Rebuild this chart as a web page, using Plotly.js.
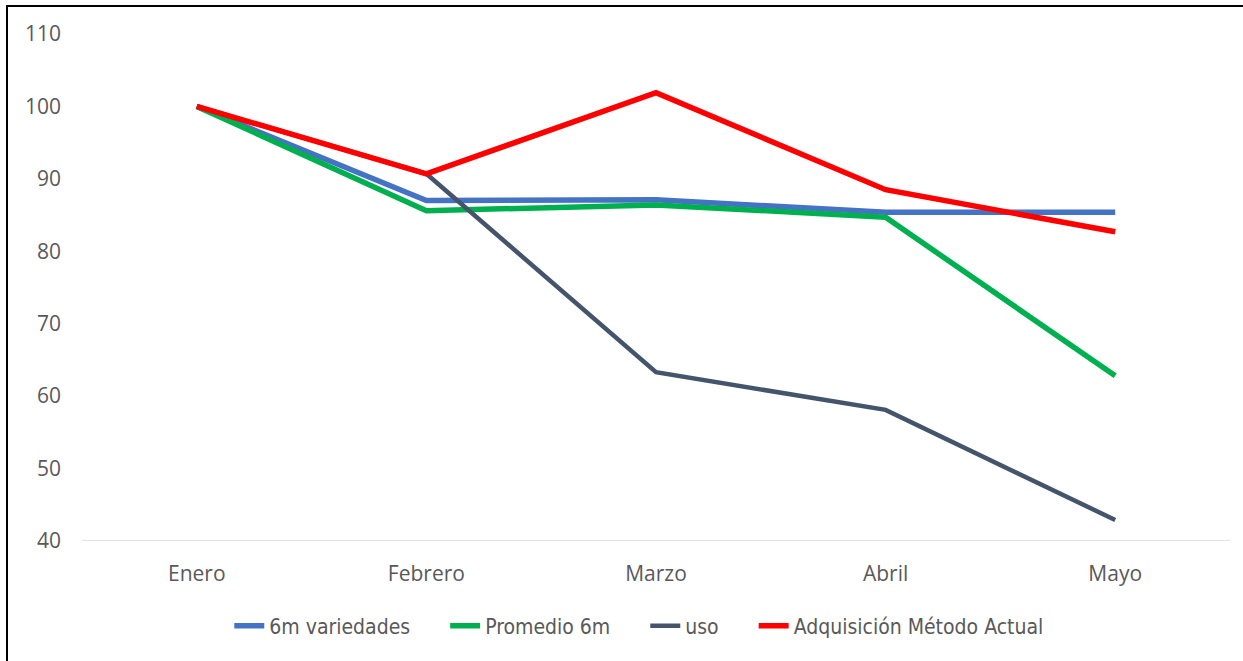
<!DOCTYPE html>
<html>
<head>
<meta charset="utf-8">
<script src="https://cdn.plot.ly/plotly-3.0.1.min.js"></script>
<style>
  html, body { margin: 0; padding: 0; background: #fff; }
  #wrap { position: relative; width: 1243px; height: 661px; overflow: hidden; }
  #chart { width: 1243px; height: 661px; }
  #frame { position: absolute; left: 6px; top: 5px; width: 1243px; height: 700px;
           border-top: 2px solid #000; border-left: 2px solid #000; pointer-events: none; }
</style>
</head>
<body>
<div id="wrap">
  <div id="chart"></div>
  <div id="frame"></div>
</div>
<script>
const months = ["Enero", "Febrero", "Marzo", "Abril", "Mayo"];
const variedades6m = [100, 87.0, 87.1, 85.4, 85.4];
const promedio6m = [100, 85.6, 86.4, 84.7, 62.8];
const uso = [100, 90.7, 63.3, 58.1, 42.9];
const adquisicion = [100, 90.7, 101.9, 88.5, 82.7];
const yTicks = [40, 50, 60, 70, 80, 90, 100, 110];
const seriesNames = ["6m variedades", "Promedio 6m", "uso", "Adquisición Método Actual"];

const pad = "\u00a0\u00a0\u00a0\u00a0\u00a0";
const traces = [
  { name: seriesNames[0] + pad, x: months, y: variedades6m, color: "#4472C4", w: 5.5 },
  { name: seriesNames[1] + pad, x: months, y: promedio6m, color: "#00B050", w: 5.5 },
  { name: seriesNames[2] + pad, x: months, y: uso, color: "#44546A", w: 4.5 },
  { name: seriesNames[3], x: months, y: adquisicion, color: "#FF0000", w: 5.5 }
].map(s => ({
  type: "scatter", mode: "lines", name: s.name, x: s.x, y: s.y,
  line: { color: s.color, width: s.w, shape: "linear" },
  hoverinfo: "x+y"
}));

const layout = {
  width: 1243, height: 661,
  margin: { l: 82, r: 13, t: 34, b: 120 },
  paper_bgcolor: "#fff", plot_bgcolor: "#fff",
  font: { family: "Open Sans, sans-serif", size: 21, color: "#595959" },
  showlegend: true,
  legend: {
    orientation: "h", x: 0.485, xanchor: "center", y: -0.168, yanchor: "middle",
    font: { family: "Liberation Sans Narrow, DejaVu Sans Condensed, Open Sans, sans-serif", size: 21, color: "#595959" },
    itemwidth: 30, tracegroupgap: 0
  },
  xaxis: {
    type: "category", showgrid: false, zeroline: false, showline: false,
    ticks: "", tickfont: { size: 21, color: "#595959" }, range: [-0.5, 4.5],
    ticklabelstandoff: 18
  },
  yaxis: {
    range: [40, 110], tickvals: yTicks, ticktext: yTicks.map(String),
    showgrid: false, zeroline: false, showline: false, ticks: "",
    tickfont: { size: 21, color: "#595959" }, ticklabelstandoff: 20
  },
  shapes: [{
    type: "line", xref: "paper", yref: "y", x0: 0, x1: 1, y0: 40, y1: 40,
    line: { color: "#D9D9D9", width: 1.5 }, layer: "below"
  }]
};

Plotly.newPlot("chart", traces, layout, { displayModeBar: false, staticPlot: true });
</script>
</body>
</html>
